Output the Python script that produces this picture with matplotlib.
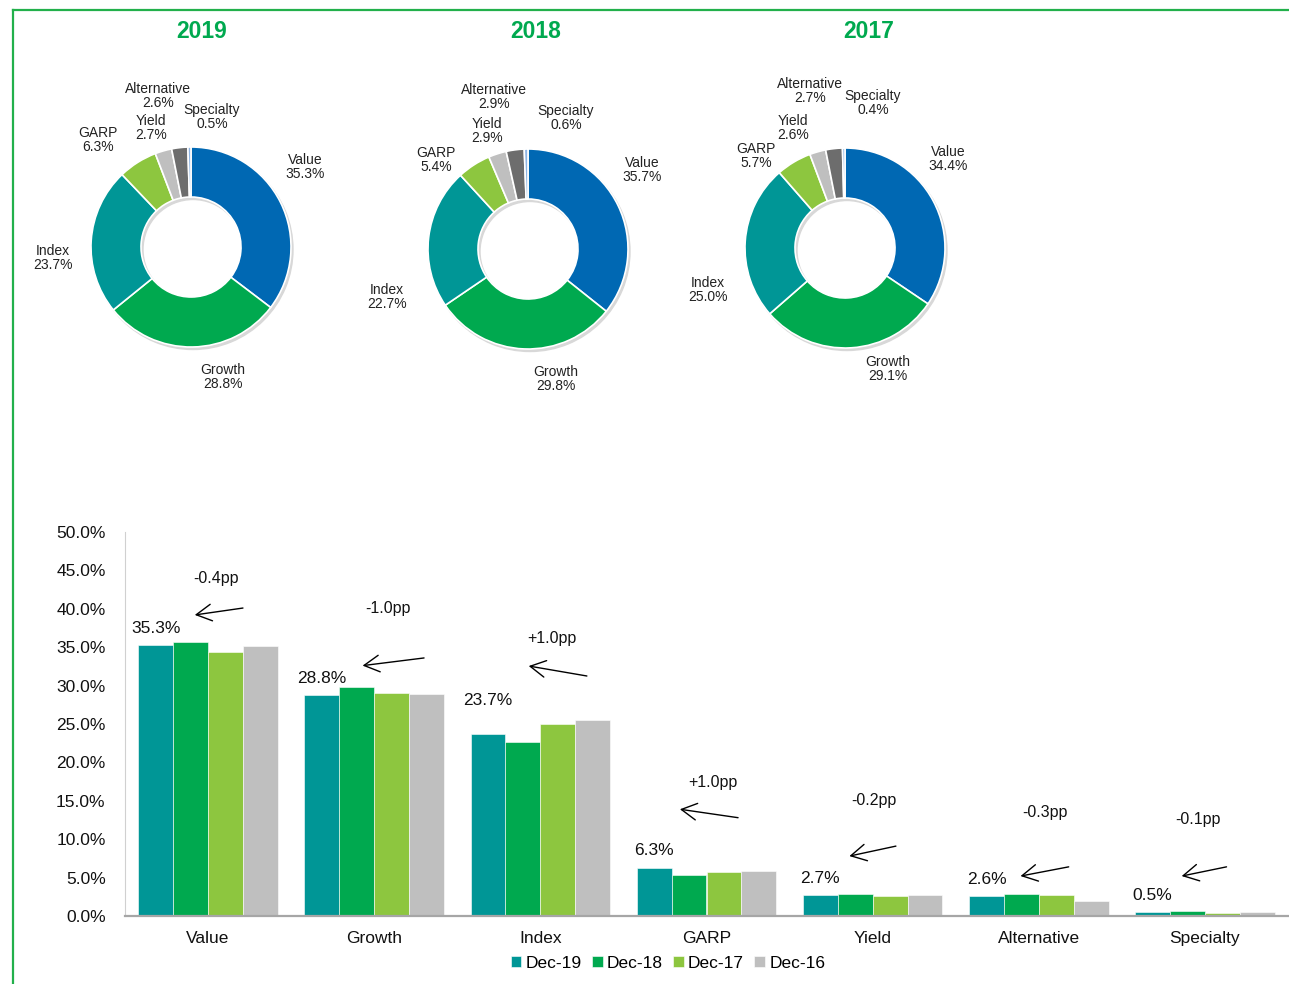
import matplotlib
matplotlib.use('Agg')
import matplotlib.pyplot as plt
from matplotlib.lines import Line2D
from matplotlib.patches import Wedge
from matplotlib.ticker import FuncFormatter
import numpy as np

plt.rcParams['font.family'] = ['Liberation Sans', 'DejaVu Sans']

# data
styles = ['Value', 'Growth', 'Index', 'GARP', 'Yield', 'Alternative', 'Specialty']
years = ['2019', '2018', '2017']
share_2019 = [35.3, 28.8, 23.7, 6.3, 2.7, 2.6, 0.5]
share_2018 = [35.7, 29.8, 22.7, 5.4, 2.9, 2.9, 0.6]
share_2017 = [34.4, 29.1, 25.0, 5.7, 2.6, 2.7, 0.4]
share_2016 = [35.2, 28.9, 25.5, 5.8, 2.7, 1.9, 0.5]
series = ['Dec-19', 'Dec-18', 'Dec-17', 'Dec-16']
change_labels = ['-0.4pp', '-1.0pp', '+1.0pp', '+1.0pp', '-0.2pp', '-0.3pp', '-0.1pp']

# colours
pie_colors = ['#0068B3', '#00A94F', '#009696', '#8DC63F', '#BFBFBF', '#6D6D6D', '#8EB4E3']
bar_colors = ['#009696', '#00A94F', '#8DC63F', '#BFBFBF']
green = '#00A94F'

W, H = 1289, 984
fig = plt.figure(figsize=(W / 100, H / 100), dpi=100)

# green frame
fig.add_artist(Line2D([13 / W, 1.0], [1 - 10 / H, 1 - 10 / H], color='#22B04B', lw=1.6))
fig.add_artist(Line2D([13 / W, 13 / W], [1 - 10 / H, 0.0], color='#22B04B', lw=1.6))

# donut charts
pie_centers = [(191, 247), (528, 249), (845, 248)]
title_x = [202, 536, 869]
label_pos = [
    [(1.14, 0.80), (0.32, -1.30), (-1.38, -0.11), (-0.93, 1.07), (-0.40, 1.19), (-0.33, 1.51), (0.21, 1.30)],
    [(1.14, 0.79), (0.28, -1.30), (-1.41, -0.48), (-0.92, 0.89), (-0.41, 1.18), (-0.34, 1.52), (0.38, 1.31)],
    [(1.03, 0.89), (0.43, -1.21), (-1.37, -0.42), (-0.89, 0.92), (-0.52, 1.20), (-0.35, 1.57), (0.28, 1.45)],
]
shares = [share_2019, share_2018, share_2017]
R = 100  # pixel radius
for k, (cx, cy) in enumerate(pie_centers):
    box = 3.4 * R
    ax = fig.add_axes([(cx - box / 2) / W, 1 - (cy + box / 2) / H, box / W, box / H])
    ax.axis('off')
    # faint shadow
    ax.add_patch(Wedge((0.02, -0.025), 1.0, 0, 360, width=0.5, color='#d8d8d8', zorder=0))
    ax.pie(shares[k], colors=pie_colors, startangle=90, counterclock=False, radius=1.0,
           wedgeprops=dict(width=0.5, edgecolor='white', linewidth=1.2))
    ax.set_xlim(-1.7, 1.7)
    ax.set_ylim(-1.7, 1.7)
    for name, val, (lx, ly) in zip(styles, shares[k], label_pos[k]):
        ax.text(lx, ly, f'{name}\n{val:.1f}%', ha='center', va='center', fontsize=10,
                linespacing=1.0, color='#222222')
    fig.text(title_x[k] / W, 1 - 32 / H, years[k], ha='center', va='center',
             fontsize=16.5, fontweight='bold', color=green)

# bar chart
bx = fig.add_axes([125 / W, 1 - 916 / H, (1288 - 125) / W, (916 - 532) / H])
all_vals = [share_2019, share_2018, share_2017, share_2016]
x = np.arange(len(styles))
bw = 0.21
for i, (vals, name) in enumerate(zip(all_vals, series)):
    bx.bar(x + (i - 1.5) * bw, vals, width=bw, color=bar_colors[i], label=name,
           edgecolor='white', linewidth=0.4)

narrow = ['Liberation Sans Narrow', 'Liberation Sans', 'DejaVu Sans']
bx.set_xlim(-0.5, 6.5)
bx.set_ylim(0, 50)
bx.set_yticks(np.arange(0, 51, 5))
bx.yaxis.set_major_formatter(FuncFormatter(lambda v, p: f'{v:.1f}%'))
bx.set_xticks(x)
bx.set_xticklabels(styles)
bx.tick_params(axis='both', length=0, labelsize=12.5, colors='#111111')
bx.tick_params(axis='y', pad=14)
bx.tick_params(axis='x', pad=11)
for lab in bx.get_xticklabels() + bx.get_yticklabels():
    lab.set_family(narrow)
for s in ['top', 'right']:
    bx.spines[s].set_visible(False)
bx.spines['left'].set_color('#d0d0d0')
bx.spines['bottom'].set_color('#a6a6a6')
bx.spines['bottom'].set_linewidth(1.6)

# Dec-19 value labels
label_off = [12, 12, 24, 12, 12, 12, 12]
for xi, v, off in zip(x, share_2019, label_off):
    bx.annotate(f'{v:.1f}%', (xi - 1.5 * bw, v), xytext=(0, off), textcoords='offset points',
                ha='center', va='center', fontsize=12.5, family=narrow, color='#111111')

# change annotations with arrows (layout positions in data units)
text_xy = [(0.05, 44.0), (1.08, 40.1), (2.07, 36.1), (3.04, 17.4), (4.01, 15.0), (5.04, 13.5), (5.96, 12.6)]
arrow_tail = [(0.21, 40.1), (1.30, 33.6), (2.28, 31.25), (3.19, 12.8), (4.14, 9.1), (5.18, 6.4), (6.13, 6.4)]
arrow_head = [(-0.08, 39.2), (0.93, 32.6), (1.93, 32.55), (2.84, 13.9), (3.86, 7.8), (4.89, 5.2), (5.86, 5.2)]
for lab, t, a, h in zip(change_labels, text_xy, arrow_tail, arrow_head):
    bx.text(t[0], t[1], lab, ha='center', va='center', fontsize=11.5, family=narrow, color='#111111')
    bx.annotate('', xy=h, xytext=a,
                arrowprops=dict(arrowstyle='->,head_length=0.55,head_width=0.3', color='black',
                                lw=1.0, shrinkA=0, shrinkB=0, mutation_scale=20))

leg = fig.legend(loc='center', bbox_to_anchor=(668 / W, 1 - 963 / H), ncol=4, frameon=False,
                 handlelength=0.6, handleheight=0.6, handletextpad=0.25, columnspacing=0.6,
                 prop={'family': narrow, 'size': 12.5})

fig.savefig('out.png', dpi=100)
